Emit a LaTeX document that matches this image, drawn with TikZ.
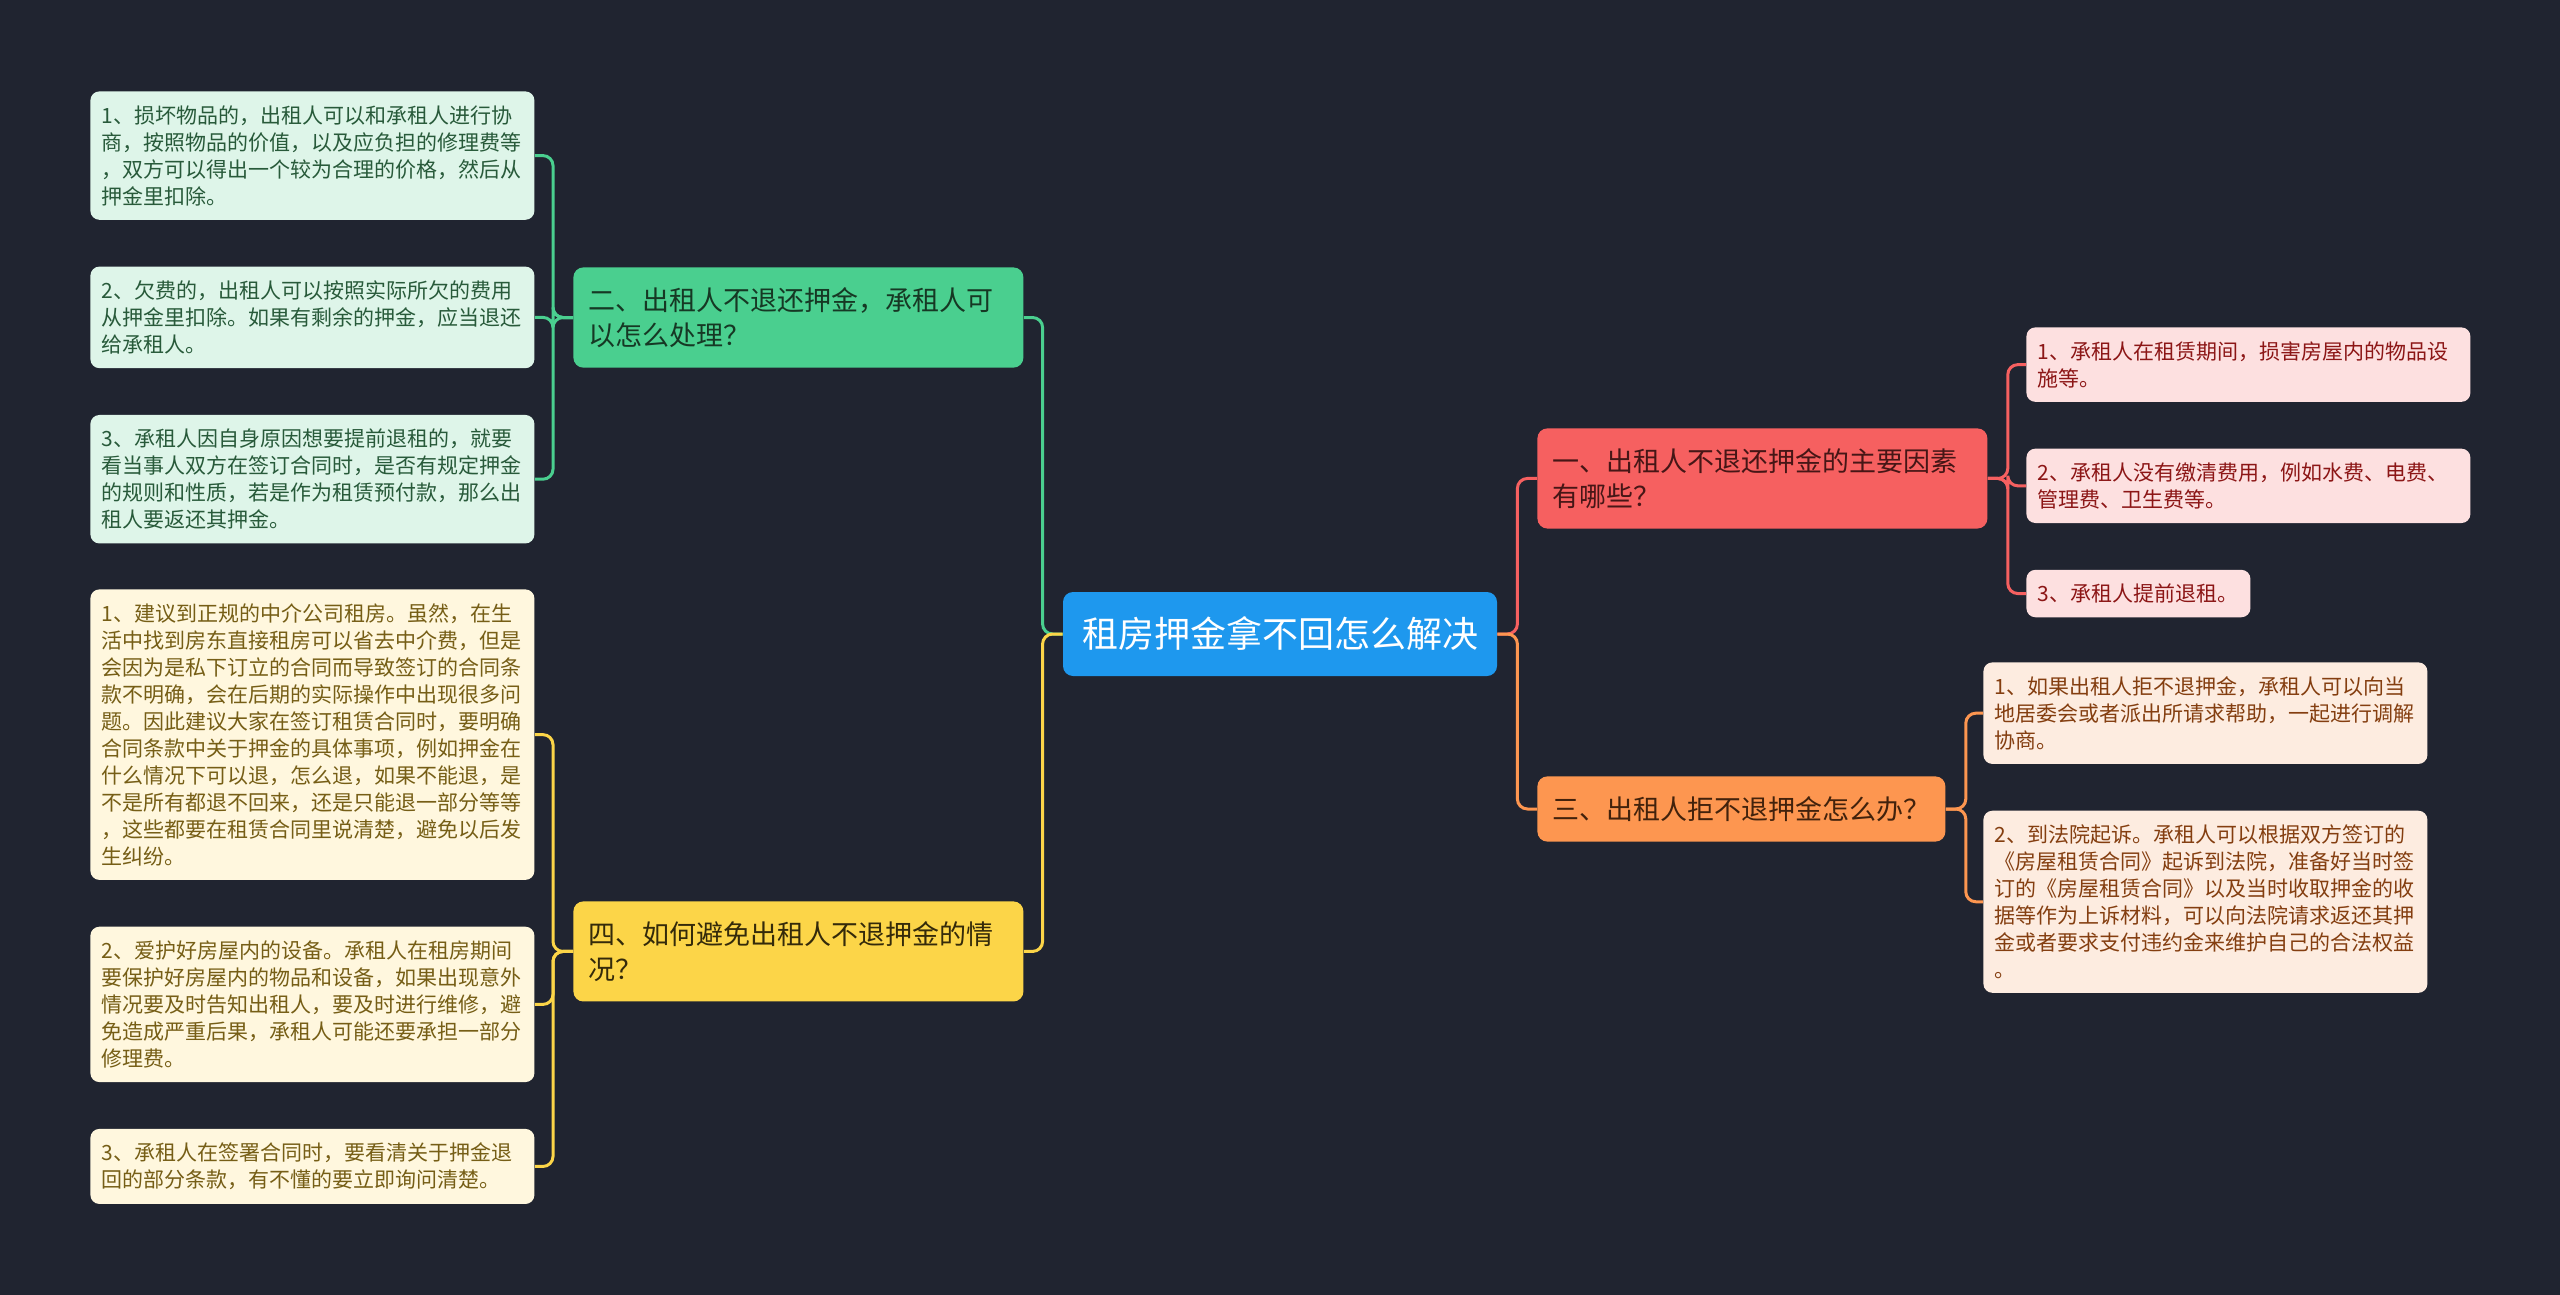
\documentclass[tikz,border=0pt]{standalone}
\usepackage{fontspec}
\setmainfont{Noto Sans CJK SC}
\usepackage{tikz}
\usetikzlibrary{positioning}
\usepackage{xcolor}
\definecolor{bgc}{RGB}{32,36,48}
\definecolor{rootc}{RGB}{30,152,238}
\definecolor{redc}{RGB}{246,96,96}
\definecolor{grnc}{RGB}{74,207,143}
\definecolor{orgc}{RGB}{253,150,80}
\definecolor{ylwc}{RGB}{252,213,72}
\definecolor{redt}{RGB}{70,22,22}
\definecolor{grnt}{RGB}{22,56,36}
\definecolor{orgt}{RGB}{66,34,12}
\definecolor{ylwt}{RGB}{52,42,10}
\definecolor{redl}{RGB}{253,224,224}
\definecolor{grnl}{RGB}{222,245,233}
\definecolor{orgl}{RGB}{253,236,224}
\definecolor{ylwl}{RGB}{255,247,222}
\definecolor{redlt}{RGB}{140,22,22}
\definecolor{grnlt}{RGB}{40,90,58}
\definecolor{orglt}{RGB}{132,62,16}
\definecolor{ylwlt}{RGB}{118,94,22}

\begin{document}
\begin{tikzpicture}[
    x=0.5pt, y=-0.5pt,
    root/.style={fill=rootc, text=white, rounded corners=5pt, inner xsep=9.5pt, inner ysep=0pt, minimum height=42pt, font=\fontsize{18}{22}\selectfont},
    branch/.style={rounded corners=5pt, align=left, text width=210pt, inner xsep=7.5pt, inner ysep=10pt, anchor=north west, font=\fontsize{13.5}{17.5}\selectfont},
    leaf/.style={rounded corners=4.5pt, align=left, text width=211pt, inner xsep=5.5pt, inner ysep=7pt, font=\fontsize{10.5}{13.5}\selectfont},
    link/.style={draw=#1, line width=1.5pt, rounded corners=5pt},
    node distance=23pt
]
    \fill[bgc] (0,0) rectangle (2560,1295);

    \node[root] (root) at (1280,634) {租房押金拿不回怎么解决};

    \node[branch, fill=redc, text=redt] (b1) at (1537,428) {一、出租人不退还押金的主要因素\\有哪些？};
    \node[branch, fill=grnc, text=grnt] (b2) at (573,267) {二、出租人不退还押金，承租人可\\以怎么处理？};
    \node[branch, fill=orgc, text=orgt, text width=189pt] (b3) at (1537,776) {三、出租人拒不退押金怎么办？};
    \node[branch, fill=ylwc, text=ylwt] (b4) at (573,901) {四、如何避免出租人不退押金的情\\况？};

    % left side, green
    \node[leaf, fill=grnl, text=grnlt, anchor=north west] (g1) at (90,91) {1、损坏物品的，出租人可以和承租人进行协\\商，按照物品的价值，以及应负担的修理费等\\，双方可以得出一个较为合理的价格，然后从\\押金里扣除。};
    \node[leaf, fill=grnl, text=grnlt, below=of g1] (g2) {2、欠费的，出租人可以按照实际所欠的费用\\从押金里扣除。如果有剩余的押金，应当退还\\给承租人。};
    \node[leaf, fill=grnl, text=grnlt, below=of g2] (g3) {3、承租人因自身原因想要提前退租的，就要\\看当事人双方在签订合同时，是否有规定押金\\的规则和性质，若是作为租赁预付款，那么出\\租人要返还其押金。};

    % left side, yellow
    \node[leaf, fill=ylwl, text=ylwlt, anchor=north west] (y1) at (90,589) {1、建议到正规的中介公司租房。虽然，在生\\活中找到房东直接租房可以省去中介费，但是\\会因为是私下订立的合同而导致签订的合同条\\款不明确，会在后期的实际操作中出现很多问\\题。因此建议大家在签订租赁合同时，要明确\\合同条款中关于押金的具体事项，例如押金在\\什么情况下可以退，怎么退，如果不能退，是\\不是所有都退不回来，还是只能退一部分等等\\，这些都要在租赁合同里说清楚，避免以后发\\生纠纷。};
    \node[leaf, fill=ylwl, text=ylwlt, below=of y1] (y2) {2、爱护好房屋内的设备。承租人在租房期间\\要保护好房屋内的物品和设备，如果出现意外\\情况要及时告知出租人，要及时进行维修，避\\免造成严重后果，承租人可能还要承担一部分\\修理费。};
    \node[leaf, fill=ylwl, text=ylwlt, below=of y2] (y3) {3、承租人在签署合同时，要看清关于押金退\\回的部分条款，有不懂的要立即询问清楚。};

    % right side, red
    \node[leaf, fill=redl, text=redlt, anchor=north west] (r1) at (2026,327) {1、承租人在租赁期间，损害房屋内的物品设\\施等。};
    \node[leaf, fill=redl, text=redlt, below=of r1] (r2) {2、承租人没有缴清费用，例如水费、电费、\\管理费、卫生费等。};
    \node[leaf, fill=redl, text=redlt, text width=101pt, below=of r2.south west, anchor=north west] (r3) {3、承租人提前退租。};

    % right side, orange
    \node[leaf, fill=orgl, text=orglt, anchor=north west] (o1) at (1983,662) {1、如果出租人拒不退押金，承租人可以向当\\地居委会或者派出所请求帮助，一起进行调解\\协商。};
    \node[leaf, fill=orgl, text=orglt, below=of o1] (o2) {2、到法院起诉。承租人可以根据双方签订的\\《房屋租赁合同》起诉到法院，准备好当时签\\订的《房屋租赁合同》以及当时收取押金的收\\据等作为上诉材料，可以向法院请求返还其押\\金或者要求支付违约金来维护自己的合法权益\\。};

    \draw[link=redc] (root.east) -- ++(10pt,0) |- (b1.west);
    \draw[link=orgc] (root.east) -- ++(10pt,0) |- (b3.west);
    \draw[link=grnc] (root.west) -- ++(-10pt,0) |- (b2.east);
    \draw[link=ylwc] (root.west) -- ++(-10pt,0) |- (b4.east);

    \foreach \n in {g1,g2,g3}
        \draw[link=grnc] (b2.west) -- ++(-10pt,0) |- (\n.east);
    \foreach \n in {y1,y2,y3}
        \draw[link=ylwc] (b4.west) -- ++(-10pt,0) |- (\n.east);
    \foreach \n in {r1,r2,r3}
        \draw[link=redc] (b1.east) -- ++(10pt,0) |- (\n.west);
    \foreach \n in {o1,o2}
        \draw[link=orgc] (b3.east) -- ++(10pt,0) |- (\n.west);
\end{tikzpicture}
\end{document}
